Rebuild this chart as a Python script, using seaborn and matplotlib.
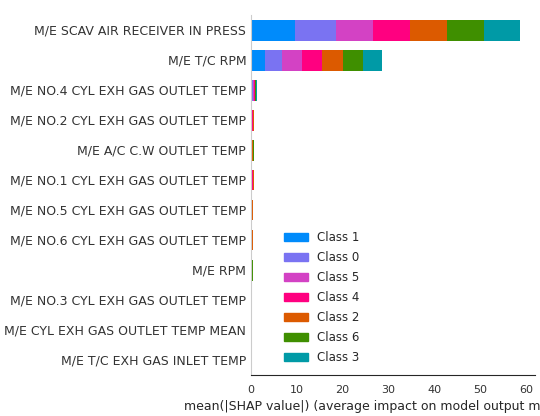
import numpy as np
import pandas as pd
import matplotlib
matplotlib.use("Agg")
import matplotlib.pyplot as plt
import seaborn as sns

features = ["M/E SCAV AIR RECEIVER IN PRESS", "M/E T/C RPM", "M/E NO.4 CYL EXH GAS OUTLET TEMP",
            "M/E NO.2 CYL EXH GAS OUTLET TEMP", "M/E A/C C.W OUTLET TEMP", "M/E NO.1 CYL EXH GAS OUTLET TEMP",
            "M/E NO.5 CYL EXH GAS OUTLET TEMP", "M/E NO.6 CYL EXH GAS OUTLET TEMP", "M/E RPM",
            "M/E NO.3 CYL EXH GAS OUTLET TEMP", "M/E CYL EXH GAS OUTLET TEMP MEAN", "M/E T/C EXH GAS INLET TEMP"]
classes = ["Class 1", "Class 0", "Class 5", "Class 4", "Class 2", "Class 6", "Class 3"]
colors = ["#008BFB", "#7A73F2", "#D342C4", "#FF0080", "#DC5A00", "#3F8F00", "#009AA6"]
class1 = [9.6, 3.1, 0.15, 0.05, 0.05, 0.05, 0.08, 0.08, 0.06, 0.04, 0.05, 0.03]
class0 = [9.0, 3.7, 0.25, 0.10, 0.08, 0.08, 0.10, 0.10, 0.08, 0.06, 0.08, 0.03]
class5 = [8.1, 4.4, 0.20, 0.15, 0.08, 0.15, 0.06, 0.06, 0.06, 0.06, 0.05, 0.03]
class4 = [8.1, 4.4, 0.25, 0.20, 0.08, 0.20, 0.06, 0.06, 0.05, 0.05, 0.04, 0.03]
class2 = [7.9, 4.4, 0.12, 0.08, 0.08, 0.07, 0.06, 0.05, 0.04, 0.03, 0.03, 0.02]
class6 = [8.1, 4.4, 0.12, 0.08, 0.20, 0.07, 0.06, 0.05, 0.04, 0.03, 0.03, 0.02]
class3 = [7.9, 4.1, 0.15, 0.08, 0.10, 0.08, 0.12, 0.10, 0.05, 0.04, 0.04, 0.04]

vals = np.array([class1, class0, class5, class4, class2, class6, class3])
cum = np.cumsum(vals, axis=0)

sns.set_style("white")
fig = plt.figure(figsize=(5.4, 4.16), dpi=100)
ax = fig.add_axes([251/540, 1-375/416, 284/540, 360/416])
for i in range(len(classes) - 1, -1, -1):
    df = pd.DataFrame({"f": features, "v": cum[i]})
    sns.barplot(data=df, x="v", y="f", orient="h", color=colors[i], width=0.7,
                ax=ax, saturation=1, linewidth=0)
handles = [plt.Rectangle((0, 0), 1, 1, color=c) for c in colors]
ax.legend(handles, classes, loc="lower left", bbox_to_anchor=(0.08, 0.0), frameon=False,
          fontsize=8.5, labelspacing=0.6)
ax.set_xlim(0, 62)
ax.set_xticks([0, 10, 20, 30, 40, 50, 60])
ax.set_ylabel("")
ax.set_xlabel("mean(|SHAP value|) (average impact on model output magnitude)", fontsize=9)
for s in ["top", "right"]:
    ax.spines[s].set_visible(False)
ax.spines["left"].set_color("#cccccc")
ax.tick_params(axis="y", length=0, labelsize=9, labelcolor="#333333")
ax.tick_params(axis="x", labelsize=8, labelcolor="#333333")
fig.savefig("out.png", dpi=100)
